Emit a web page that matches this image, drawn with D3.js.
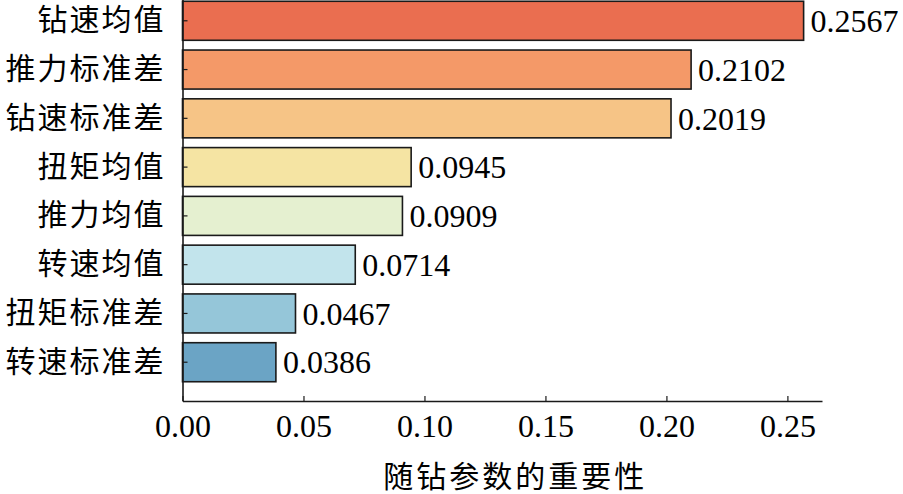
<!DOCTYPE html>
<html lang="zh">
  <head>
    <meta charset="UTF-8" />
    <script src="https://cdn.jsdelivr.net/npm/d3@7"></script>
    <style>
      html, body { margin: 0; padding: 0; background: #fff; }
      svg { display: block; }
      .num { font-family: "Liberation Serif", "Times New Roman", serif; }
      .cjk { font-family: "Noto Sans CJK SC", sans-serif; }
    </style>
  </head>
  <body>
    <svg width="903" height="494"></svg>
    <script>
      var categories = ["钻速均值", "推力标准差", "钻速标准差", "扭矩均值",
                        "推力均值", "转速均值", "扭矩标准差", "转速标准差"];
      var values = [0.2567, 0.2102, 0.2019, 0.0945, 0.0909, 0.0714, 0.0467, 0.0386];
      var colors = ["#ea6e50", "#f49968", "#f6c486", "#f5e4a3",
                    "#e5f0d0", "#c2e4ec", "#95c6d9", "#6ba4c5"];
      var xTicks = [0, 0.05, 0.1, 0.15, 0.2, 0.25];
      var xLabel = "随钻参数的重要性";

      var data = categories.map(function (c, i) {
        return { name: c, value: values[i], color: colors[i] };
      });

      var svg = d3.select("svg");
      // plot area (top runs past the edge, the reference is cropped there)
      var plot = { left: 182.5, right: 822, top: -18, bottom: 401 };

      var x = d3.scaleLinear().domain([0, 0.2643]).range([plot.left, plot.right]);
      var y = d3.scaleBand()
        .domain(categories)
        .range([plot.top, plot.bottom])
        .paddingInner(0.2)
        .paddingOuter(0.395);

      // bars
      svg.append("g")
        .selectAll("rect")
        .data(data)
        .enter()
        .append("rect")
        .attr("x", x(0))
        .attr("y", function (d) { return y(d.name); })
        .attr("width", function (d) { return x(d.value) - x(0); })
        .attr("height", y.bandwidth())
        .attr("fill", function (d) { return d.color; })
        .attr("stroke", "#1a1a1a")
        .attr("stroke-width", 1.6);

      // value labels
      svg.append("g")
        .selectAll("text")
        .data(data)
        .enter()
        .append("text")
        .attr("class", "num")
        .attr("x", function (d) { return x(d.value) + 7; })
        .attr("y", function (d) { return y(d.name) + y.bandwidth() / 2; })
        .attr("dy", "0.35em")
        .attr("font-size", 32)
        .attr("fill", "#000")
        .text(function (d) { return d.value.toFixed(4); });

      // x axis, ticks pointing inward
      var gx = svg.append("g")
        .attr("transform", "translate(0," + plot.bottom + ")")
        .call(d3.axisBottom(x).tickValues(xTicks).tickSizeInner(-5)
          .tickSizeOuter(0).tickPadding(13).tickFormat(d3.format(".2f")));
      gx.select(".domain").attr("stroke", "#1a1a1a").attr("stroke-width", 1.6);
      gx.selectAll(".tick line").attr("stroke", "#1a1a1a").attr("stroke-width", 1.2);
      gx.selectAll(".tick text")
        .attr("class", "num")
        .attr("font-size", 32)
        .attr("fill", "#000");

      // y axis, ticks pointing inward
      var gy = svg.append("g")
        .attr("transform", "translate(" + plot.left + ",0)")
        .call(d3.axisLeft(y).tickSizeInner(-5).tickSizeOuter(0).tickPadding(17));
      gy.select(".domain").attr("stroke", "#1a1a1a").attr("stroke-width", 1.6);
      gy.selectAll(".tick line").attr("stroke", "#1a1a1a").attr("stroke-width", 1.2);
      gy.selectAll(".tick text")
        .attr("class", "cjk")
        .attr("font-size", 30)
        .attr("letter-spacing", 2)
        .attr("fill", "#000");

      // x axis title
      svg.append("text")
        .attr("class", "cjk")
        .attr("x", (plot.left + plot.right) / 2 + 13)
        .attr("y", 476)
        .attr("dy", "0.35em")
        .attr("text-anchor", "middle")
        .attr("font-size", 30)
        .attr("letter-spacing", 3)
        .attr("fill", "#000")
        .text(xLabel);
    </script>
  </body>
</html>
